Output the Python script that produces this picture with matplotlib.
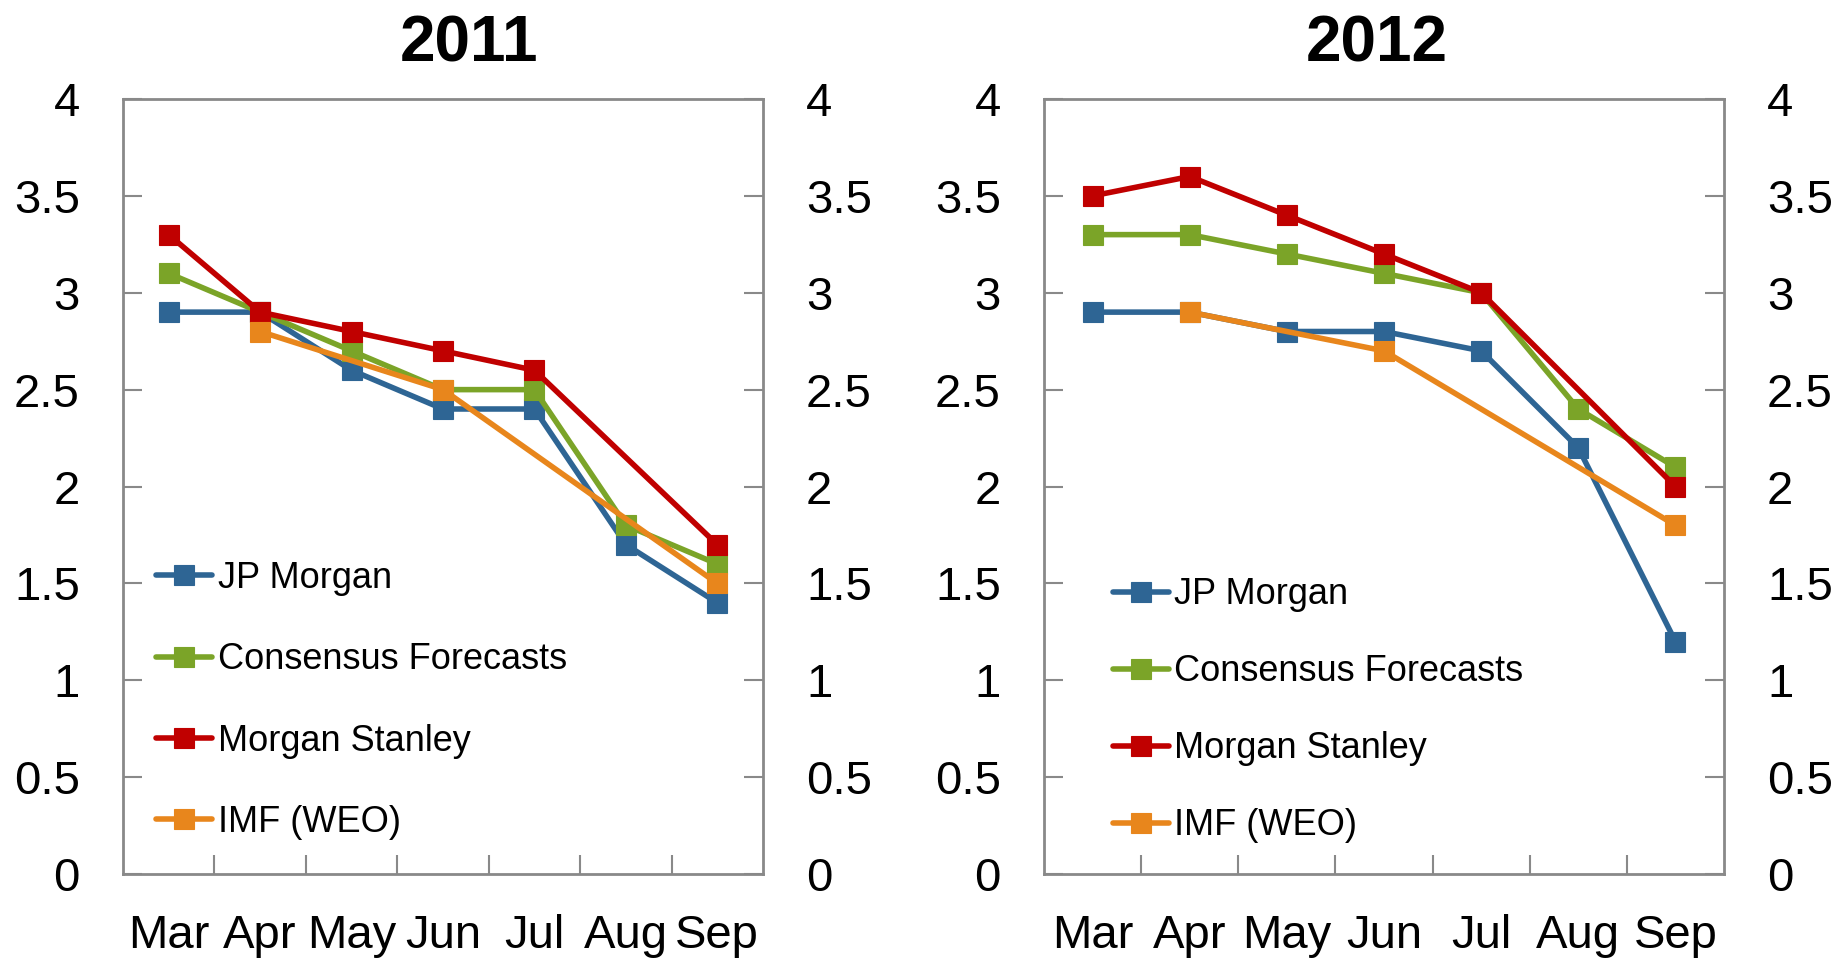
import numpy as np
import matplotlib
matplotlib.use("Agg")
import matplotlib.pyplot as plt

plt.rcParams['font.family'] = ['Liberation Sans', 'DejaVu Sans']

months = ["Mar", "Apr", "May", "Jun", "Jul", "Aug", "Sep"]
series_names = ["JP Morgan", "Consensus Forecasts", "Morgan Stanley", "IMF (WEO)"]
colors = ["#2E6594", "#7BA428", "#C00000", "#E8861C"]

nan = np.nan
# 2011
jpm_2011 = [2.9, 2.9, 2.6, 2.4, 2.4, 1.7, 1.4]
cons_2011 = [3.1, 2.9, 2.7, 2.5, 2.5, 1.8, 1.6]
ms_2011 = [3.3, 2.9, 2.8, 2.7, 2.6, nan, 1.7]
imf_2011 = [nan, 2.8, nan, 2.5, nan, nan, 1.5]
# 2012
jpm_2012 = [2.9, 2.9, 2.8, 2.8, 2.7, 2.2, 1.2]
cons_2012 = [3.3, 3.3, 3.2, 3.1, 3.0, 2.4, 2.1]
ms_2012 = [3.5, 3.6, 3.4, 3.2, 3.0, nan, 2.0]
imf_2012 = [nan, 2.9, nan, 2.7, nan, nan, 1.8]

yticks = [0, 0.5, 1, 1.5, 2, 2.5, 3, 3.5, 4]
ytick_labels = ["0", "0.5", "1", "1.5", "2", "2.5", "3", "3.5", "4"]

panels = [
    ("2011", [jpm_2011, cons_2011, ms_2011, imf_2011]),
    ("2012", [jpm_2012, cons_2012, ms_2012, imf_2012]),
]

W, H = 1837, 959
fig = plt.figure(figsize=(W / 100, H / 100), dpi=100)

ax_rects = [
    [123 / W, (H - 874) / H, 640 / W, 775 / H],
    [1044 / W, (H - 874) / H, 680 / W, 775 / H],
]
title_x = [469 / W, 1377 / W]
legend_anchor = [(0.052, 0.404), (0.101, 0.383)]
legend_spacing = [1.285, 1.166]

spine_col = "#898989"
x = np.arange(len(months))

for i, (title, data) in enumerate(panels):
    ax = fig.add_axes(ax_rects[i])
    for name, vals, col in zip(series_names, data, colors):
        v = np.array(vals, dtype=float)
        m = np.isfinite(v)
        ax.plot(x[m], v[m], color=col, lw=4.0, marker="s", ms=14,
                markerfacecolor=col, markeredgecolor=col, markeredgewidth=0.8,
                label=name, solid_capstyle="round", clip_on=False)
    ax.set_xlim(-0.5, len(months) - 0.5)
    ax.set_ylim(0, 4)
    ax.set_yticks(yticks)
    ax.set_yticklabels(ytick_labels)
    ax.set_xticks(x)
    ax.set_xticklabels(months)
    ax.set_xticks(np.arange(0.5, len(months) - 1, 1.0), minor=True)
    ax.tick_params(axis="x", which="major", length=0, labelsize=34, pad=29)
    ax.tick_params(axis="x", which="minor", direction="in", length=14,
                   width=1.5, color=spine_col, top=False)
    ax.tick_params(axis="y", which="major", direction="in", length=14,
                   width=1.5, color=spine_col, labelsize=34, pad=31,
                   left=True, right=True, labelleft=True, labelright=True)
    for s in ax.spines.values():
        s.set_color(spine_col)
        s.set_linewidth(2)
    ax.spines["bottom"].set_zorder(0)
    fig.text(title_x[i], 1 - 62 / H, title, ha="center", va="baseline",
             fontsize=46, fontweight="bold")
    ax.legend(loc="upper left", bbox_to_anchor=legend_anchor[i],
              frameon=False, fontsize=26, handlelength=1.55,
              handletextpad=0.15, labelspacing=legend_spacing[i],
              borderpad=0, borderaxespad=0, numpoints=1)

fig.savefig("out.png", dpi=100)
